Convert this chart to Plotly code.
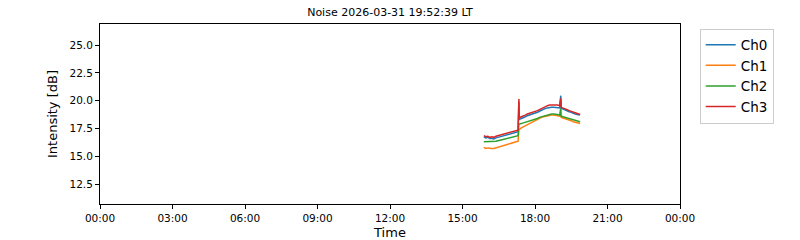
import plotly.graph_objects as go

day = "2026-03-31"
times = ["15:53","15:58","16:03","16:08","16:13","16:18","16:23","16:28","16:33","16:38","16:43","16:48",
         "16:53","16:58","17:03","17:08","17:13","17:18","17:20","17:21","17:26","17:31","17:36","17:41",
         "17:46","17:51","17:56","18:01","18:06","18:11","18:16","18:21","18:26","18:31","18:36","18:41",
         "18:46","18:51","18:56","19:01","19:04","19:05","19:10","19:15","19:20","19:25","19:30","19:35",
         "19:40","19:45","19:52"]

ch0 = [16.75,16.65,16.7,16.6,16.6,16.55,16.65,16.7,16.75,16.8,16.85,16.9,16.95,17.0,17.05,17.1,17.15,17.2,
       19.9,18.3,18.4,18.45,18.55,18.65,18.7,18.8,18.85,18.9,18.95,19.05,19.15,19.2,19.3,19.35,19.4,19.4,
       19.4,19.4,19.4,19.35,20.45,19.3,19.25,19.15,19.1,19.0,18.95,18.85,18.8,18.75,18.7]
ch1 = [15.8,15.7,15.75,15.7,15.7,15.7,15.75,15.8,15.85,15.9,15.95,16.0,16.05,16.1,16.15,16.2,16.3,16.35,
       17.45,17.4,17.55,17.65,17.75,17.85,17.95,18.0,18.1,18.2,18.3,18.4,18.5,18.55,18.6,18.65,18.7,18.7,
       18.7,18.7,18.65,18.6,18.7,18.5,18.45,18.35,18.3,18.25,18.2,18.1,18.05,18.0,17.95]
ch2 = [16.3,16.3,16.35,16.3,16.3,16.3,16.35,16.4,16.45,16.5,16.5,16.55,16.6,16.65,16.7,16.75,16.8,16.85,
       17.9,17.9,17.95,18.0,18.05,18.15,18.2,18.25,18.3,18.35,18.4,18.5,18.55,18.65,18.7,18.75,18.8,18.8,
       18.8,18.8,18.75,18.7,19.3,18.6,18.55,18.45,18.4,18.35,18.3,18.25,18.2,18.15,18.1]
ch3 = [16.85,16.75,16.8,16.7,16.75,16.7,16.8,16.85,16.9,16.95,16.95,17.05,17.05,17.1,17.15,17.2,17.3,17.35,
       20.15,18.45,18.55,18.6,18.7,18.8,18.85,18.9,19.0,19.05,19.1,19.2,19.3,19.4,19.5,19.55,19.6,19.6,
       19.65,19.6,19.6,19.55,20.2,19.4,19.35,19.25,19.2,19.1,19.05,18.95,18.9,18.85,18.75]

names = ["Ch0", "Ch1", "Ch2", "Ch3"]
colors = ["#1f77b4", "#ff7f0e", "#2ca02c", "#d62728"]
x = [f"{day} {t}" for t in times]

fig = go.Figure()
for name, col, vals in zip(names, colors, [ch0, ch1, ch2, ch3]):
    fig.add_trace(go.Scatter(x=x, y=vals, mode="lines", name=name,
                             line=dict(color=col, width=1.5)))

font = "DejaVu Sans, sans-serif"
fig.update_layout(
    width=800, height=240,
    margin=dict(l=100, r=120, t=24, b=36, autoexpand=False),
    paper_bgcolor="white", plot_bgcolor="white",
    font=dict(family=font, color="black"),
    title=dict(text="Noise 2026-03-31 19:52:39 LT", x=0.4875, xanchor="center",
               y=0.95, yanchor="middle", font=dict(size=11)),
    showlegend=True,
    legend=dict(x=1.034, y=0.975, xanchor="left", yanchor="top",
                bordercolor="#cccccc", borderwidth=1, font=dict(size=13.5),
                bgcolor="white", tracegroupgap=0),
    xaxis=dict(range=["2026-03-31 00:00", "2026-04-01 00:00"], tickformat="%H:%M",
               dtick=3 * 3600 * 1000, tick0="2026-03-31 00:00", automargin=False,
               showgrid=False, zeroline=False, showline=True, linecolor="black", linewidth=1,
               mirror=True, ticks="outside", ticklen=4, tickcolor="black",
               tickfont=dict(size=10.5), title=dict(text="Time", font=dict(size=13), standoff=6)),
    yaxis=dict(range=[10.7, 26.9], tickvals=[12.5, 15, 17.5, 20, 22.5, 25], tickformat=".1f",
               automargin=False,
               showgrid=False, zeroline=False, showline=True, linecolor="black", linewidth=1,
               mirror=True, ticks="outside", ticklen=4, tickcolor="black",
               tickfont=dict(size=10.5), title=dict(text="Intensity [dB]", font=dict(size=13), standoff=8)),
)

fig.write_html("out.html")
